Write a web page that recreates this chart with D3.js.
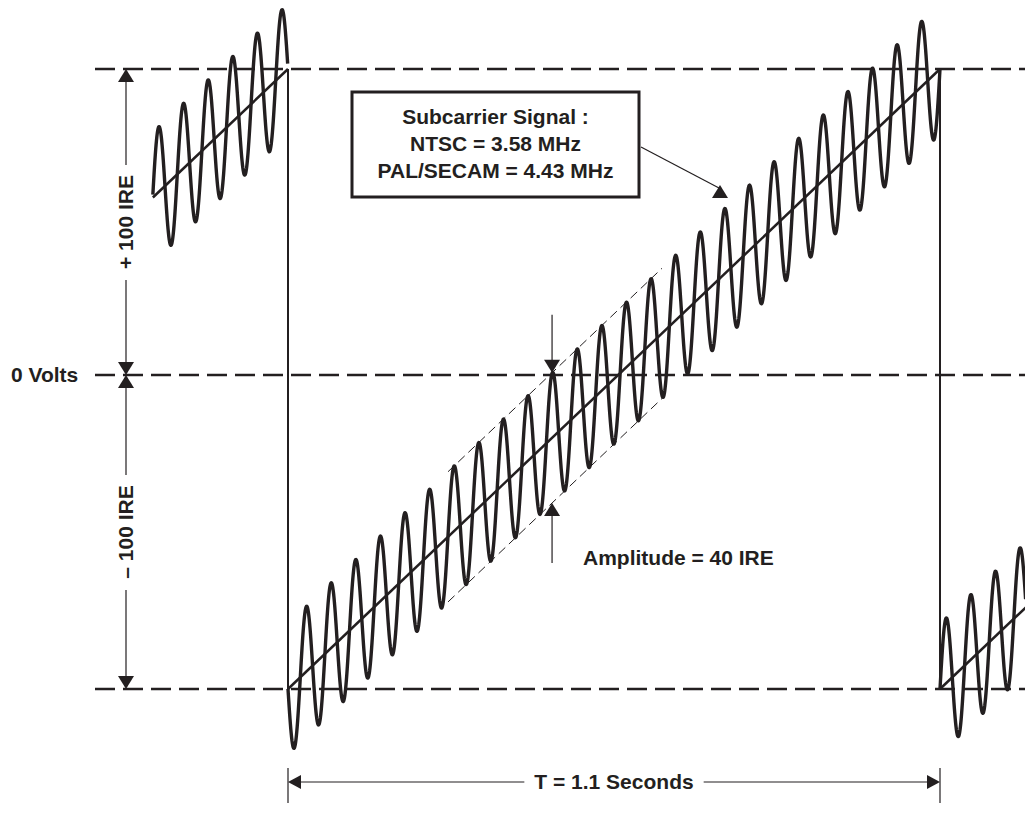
<!DOCTYPE html>
<html>
<head>
<meta charset="utf-8">
<script src="https://cdn.jsdelivr.net/npm/d3@7"></script>
<style>
body{margin:0;background:#fff}
text{font-family:"Liberation Sans",Arial,Helvetica,sans-serif;font-weight:bold;fill:#231f20;font-size:21px}
</style>
</head>
<body>
<div id="chart"></div>
<script>
// signal description
var period=1.1                 // T, seconds per sweep
var cyclesPerSweep=26.5        // subcarrier cycles drawn in one sweep
var amplitudeIRE=21            // half of the drawn peak-to-peak
var rampIRE=[-100,100]         // sweep goes from -100 to +100 IRE
var levels=[100,0,-100]        // dashed reference levels
var sweeps=[-1,0,1]
var visibleT=[-0.228,1.245]    // part of the time axis that is shown
var envelopeT=[0.27,0.631]     // dashed amplitude guides
var markerT=0.4455             // where the amplitude arrows sit
var boxLines=["Subcarrier Signal :","NTSC = 3.58 MHz","PAL/SECAM = 4.43 MHz"]
var dimLabels=["+ 100 IRE","\u2013 100 IRE"]

var ink="#231f20"
var svg=d3.select("#chart").append("svg")
    .attr("width",1025)
    .attr("height",836)

svg.append("rect").attr("width",1025).attr("height",836).attr("fill","#fff")

var x=d3.scaleLinear().domain([0,period]).range([288,940])
var y=d3.scaleLinear().domain([100,0,-100]).range([69,375,689])

var ampPx=amplitudeIRE*(y(-100)-y(100))/200

function rampY(t,k){
  var f=(t-k*period)/period
  return y(rampIRE[0])+(y(rampIRE[1])-y(rampIRE[0]))*f
}

// dashed level lines
svg.selectAll(".level")
  .data(levels)
  .enter().append("line")
    .attr("class","level")
    .attr("x1",95).attr("x2",1025)
    .attr("y1",d=>y(d)).attr("y2",d=>y(d))
    .attr("stroke",ink).attr("stroke-width",2.5)
    .attr("stroke-dasharray","20,8")

// retrace lines at sweep boundaries
svg.selectAll(".retrace")
  .data([0,period])
  .enter().append("line")
    .attr("x1",d=>x(d)).attr("x2",d=>x(d))
    .attr("y1",y(100)).attr("y2",y(-100))
    .attr("stroke",ink).attr("stroke-width",2)

var spans=sweeps.map(function(k){
  return [Math.max(visibleT[0],k*period),Math.min(visibleT[1],(k+1)*period),k]
})

// ramps
svg.selectAll(".ramp")
  .data(spans)
  .enter().append("line")
    .attr("x1",d=>x(d[0])).attr("x2",d=>x(d[1]))
    .attr("y1",d=>rampY(d[0],d[2])).attr("y2",d=>rampY(d[1],d[2]))
    .attr("stroke",ink).attr("stroke-width",2.5)

// subcarrier riding on the ramp
var line=d3.line().x(d=>x(d[0])).y(d=>d[1])
var dt=period/652*0.4
spans.forEach(function(s){
  var pts=[]
  for(var t=s[0];t<=s[1]+1e-9;t+=dt){
    var ph=2*Math.PI*cyclesPerSweep*t/period
    pts.push([t,rampY(t,s[2])+ampPx*Math.sin(ph)])
  }
  svg.append("path")
    .attr("d",line(pts))
    .attr("fill","none")
    .attr("stroke",ink)
    .attr("stroke-width",3.4)
    .attr("stroke-linejoin","round")
})

// amplitude guides
svg.selectAll(".env")
  .data([-1,1])
  .enter().append("line")
    .attr("x1",x(envelopeT[0])).attr("x2",x(envelopeT[1]))
    .attr("y1",d=>rampY(envelopeT[0],0)+d*ampPx)
    .attr("y2",d=>rampY(envelopeT[1],0)+d*ampPx)
    .attr("stroke",ink).attr("stroke-width",1)
    .attr("stroke-dasharray","9,5")

function arrowHead(tx,ty,dir,len,half){
  // dir: "up","down","left","right"  tip at tx,ty
  var p
  if(dir=="up") p=[[tx,ty],[tx-half,ty+len],[tx+half,ty+len]]
  else if(dir=="down") p=[[tx,ty],[tx-half,ty-len],[tx+half,ty-len]]
  else if(dir=="left") p=[[tx,ty],[tx+len,ty-half],[tx+len,ty+half]]
  else p=[[tx,ty],[tx-len,ty-half],[tx-len,ty+half]]
  svg.append("polygon").attr("points",p.map(q=>q.join(",")).join(" ")).attr("fill",ink)
}
function seg(x1,y1,x2,y2,w){
  svg.append("line").attr("x1",x1).attr("y1",y1).attr("x2",x2).attr("y2",y2)
    .attr("stroke",ink).attr("stroke-width",w||1.2)
}

// amplitude markers
var mx=x(markerT), my=rampY(markerT,0)
seg(mx,my-ampPx-58,mx,my-ampPx-12)
arrowHead(mx,my-ampPx,"down",13,8)
arrowHead(mx,my+ampPx,"up",13,8)
seg(mx,my+ampPx+12,mx,my+ampPx+60)
svg.append("text").attr("x",583).attr("y",565).text("Amplitude = 40 IRE")

// left dimension lines
var dx=126
;[[100,0],[0,-100]].forEach(function(r,i){
  var ya=y(r[0]), yb=y(r[1]), mid=(ya+yb)/2
  arrowHead(dx,ya,"up",13,8)
  arrowHead(dx,yb,"down",13,8)
  seg(dx,ya+12,dx,mid-57)
  seg(dx,mid+58,dx,yb-12)
  svg.append("text")
    .attr("transform","translate("+(dx+7)+","+mid+") rotate(-90)")
    .attr("text-anchor","middle")
    .text(dimLabels[i])
})
svg.append("text").attr("x",11).attr("y",y(0)+7).text("0 Volts")

// callout box
svg.append("rect").attr("x",352).attr("y",92).attr("width",287).attr("height",105)
  .attr("fill","#fff").attr("stroke",ink).attr("stroke-width",3)
svg.selectAll(".boxline")
  .data(boxLines)
  .enter().append("text")
    .attr("x",495.5).attr("y",(d,i)=>124+i*27)
    .attr("text-anchor","middle")
    .text(d=>d)
seg(641,147,719,188)
svg.append("polygon").attr("points","720,185 712,198 728,198").attr("fill",ink)

// period dimension
var by=782
seg(x(0),768,x(0),803)
seg(x(period),768,x(period),803)
var tl=svg.append("text").attr("x",x(period/2)).attr("y",by+7)
  .attr("text-anchor","middle").text("T = "+period+" Seconds")
var tw=tl.node().getComputedTextLength()
seg(x(0)+12,by,x(period/2)-tw/2-10,by)
seg(x(period/2)+tw/2+10,by,x(period)-12,by)
arrowHead(x(0),by,"left",13,7)
arrowHead(x(period),by,"right",13,7)
</script>
</body>
</html>
